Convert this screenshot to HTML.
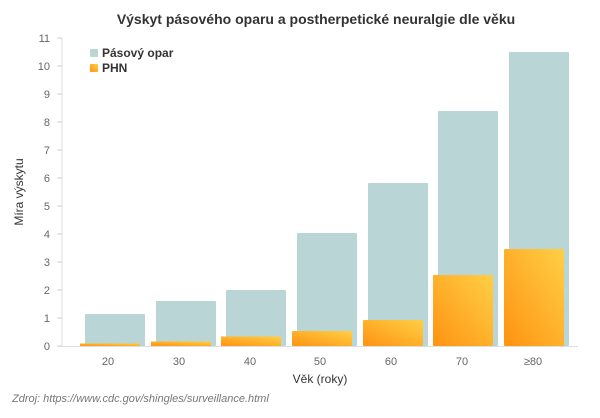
<!DOCTYPE html>
<html><head><meta charset="utf-8"><style>
body{margin:0;background:#fff;}
svg text{font-family:"Liberation Sans",sans-serif;}
</style></head><body>
<svg width="600" height="413" viewBox="0 0 600 413" xmlns="http://www.w3.org/2000/svg">
<defs>
<linearGradient id="og" x1="0" y1="1" x2="1" y2="0">
<stop offset="0" stop-color="#ff9312"/><stop offset="1" stop-color="#ffcf45"/>
</linearGradient>
</defs>
<text x="316" y="24" text-anchor="middle" font-size="14" font-weight="bold" fill="#333">Výskyt pásového oparu a postherpetické neuralgie dle věku</text>
<line x1="62" y1="38" x2="62" y2="347" stroke="#ddd"/>
<line x1="62" y1="346.5" x2="578" y2="346.5" stroke="#ddd"/>
<g font-size="11" fill="#666" text-anchor="end">
<text x="50" y="350">0</text><text x="50" y="322">1</text><text x="50" y="294">2</text><text x="50" y="266">3</text><text x="50" y="238">4</text><text x="50" y="210">5</text><text x="50" y="182">6</text><text x="50" y="154">7</text><text x="50" y="126">8</text><text x="50" y="98">9</text><text x="50" y="70">10</text><text x="50" y="42">11</text>
</g>
<g stroke="#ccc">
<line x1="57" y1="346" x2="62" y2="346"/><line x1="57" y1="318" x2="62" y2="318"/><line x1="57" y1="290" x2="62" y2="290"/><line x1="57" y1="262" x2="62" y2="262"/><line x1="57" y1="234" x2="62" y2="234"/><line x1="57" y1="206" x2="62" y2="206"/><line x1="57" y1="178" x2="62" y2="178"/><line x1="57" y1="150" x2="62" y2="150"/><line x1="57" y1="122" x2="62" y2="122"/><line x1="57" y1="94" x2="62" y2="94"/><line x1="57" y1="66" x2="62" y2="66"/><line x1="57" y1="38" x2="62" y2="38"/>
</g>
<g fill="#b9d5d6">
<rect x="85" y="314" width="60" height="32" rx="1"/>
<rect x="156" y="301" width="60" height="45" rx="1"/>
<rect x="226" y="290" width="60" height="56" rx="1"/>
<rect x="297" y="233" width="60" height="113" rx="1"/>
<rect x="368" y="183" width="60" height="163" rx="1"/>
<rect x="438" y="111" width="60" height="235" rx="1"/>
<rect x="509" y="52" width="60" height="294" rx="1"/>
</g>
<g fill="url(#og)">
<rect x="80" y="343.5" width="60" height="2.5"/>
<rect x="151" y="341.5" width="60" height="4.5"/>
<rect x="221" y="336.5" width="60" height="9.5"/>
<rect x="292" y="331" width="60" height="15" rx="1"/>
<rect x="363" y="320" width="60" height="26" rx="1"/>
<rect x="433" y="275" width="60" height="71" rx="1"/>
<rect x="504" y="249" width="60" height="97" rx="1"/>
</g>
<g font-size="11" fill="#666" text-anchor="middle">
<text x="108" y="365">20</text><text x="179" y="365">30</text><text x="250" y="365">40</text><text x="320" y="365">50</text><text x="391" y="365">60</text><text x="462" y="365">70</text><text x="533" y="365">≥80</text>
</g>
<text x="320" y="383" text-anchor="middle" font-size="12" fill="#333">Věk (roky)</text>
<text transform="translate(23,192) rotate(-90)" text-anchor="middle" font-size="12" fill="#333">Míra výskytu</text>
<rect x="90" y="49" width="8" height="8" rx="1" fill="#b9d5d6"/>
<text x="102" y="57" font-size="12" font-weight="bold" fill="#333">Pásový opar</text>
<rect x="90" y="64" width="8" height="8" rx="1" fill="url(#og)"/>
<text x="102" y="72" font-size="12" font-weight="bold" fill="#333">PHN</text>
<text x="12" y="402" font-size="11" font-style="italic" fill="#777">Zdroj: https://www.cdc.gov/shingles/surveillance.html</text>
</svg>
</body></html>
